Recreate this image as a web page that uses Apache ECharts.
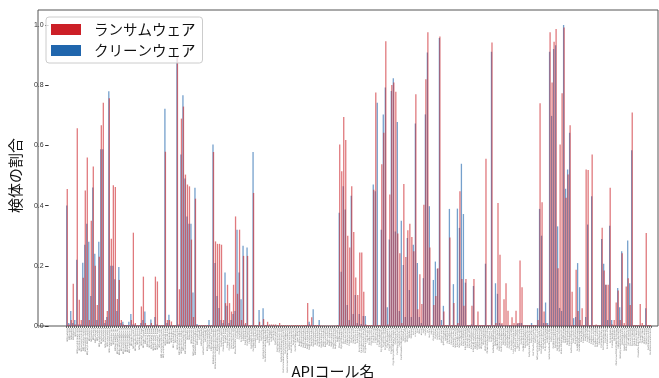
<!DOCTYPE html>
<html>
<head>
<meta charset="utf-8">
<script src="https://cdn.jsdelivr.net/npm/echarts@6/dist/echarts.min.js"></script>
<style>
  html, body { margin: 0; padding: 0; background: #fff; }
  #chart { width: 659px; height: 378px; }
</style>
</head>
<body>
<div id="chart"></div>
<script>
// API call names (x categories)
const apiNames = [
  "NtCreateFile","NtOpenFile","NtReadFile","NtWriteFile","NtClose","NtQueryInformationFile","NtSetInformationFile","NtDeviceIoControlFile","NtQueryDirectoryFile","NtQueryAttributesFile",
  "NtQueryFullAttributesFile","NtDeleteFile","NtCreateKey","NtOpenKey","NtOpenKeyEx","NtQueryKey","NtQueryValueKey","NtSetValueKey","NtDeleteKey","NtDeleteValueKey",
  "NtEnumerateKey","NtEnumerateValueKey","NtCreateSection","NtOpenSection","NtMapViewOfSection","NtUnmapViewOfSection","NtAllocateVirtualMemory","NtFreeVirtualMemory","NtProtectVirtualMemory","NtReadVirtualMemory",
  "NtWriteVirtualMemory","NtQueryVirtualMemory","NtCreateProcess","NtCreateProcessEx","NtCreateUserProcess","NtOpenProcess","NtTerminateProcess","NtCreateThread","NtCreateThreadEx","NtOpenThread",
  "NtResumeThread","NtSuspendThread","NtTerminateThread","NtGetContextThread","NtSetContextThread","NtQueueApcThread","NtDelayExecution","NtQuerySystemInformation","NtQueryInformationProcess","NtCreateMutant",
  "NtOpenMutant","NtCreateEvent","NtOpenEvent","NtDuplicateObject","NtLoadDriver","NtShutdownSystem","NtCreateDirectoryObject","NtOpenDirectoryObject","NtQuerySystemTime","NtCreateNamedPipeFile",
  "NtLoadKey","NtSaveKey","NtRenameKey","NtQueryMultipleValueKey","NtMakeTemporaryObject","NtUnloadDriver","LdrLoadDll","LdrGetDllHandle","LdrGetProcedureAddress","LdrUnloadDll",
  "RtlDecompressBuffer","RtlCompressBuffer","RtlCreateUserThread","RtlAddVectoredExceptionHandler","RtlRemoveVectoredExceptionHandler","RtlDispatchException","CreateProcessInternalW","ShellExecuteExW","CreateRemoteThread","CreateThread",
  "CreateDirectoryW","CreateDirectoryExW","RemoveDirectoryA","RemoveDirectoryW","MoveFileWithProgressW","CopyFileA","CopyFileW","CopyFileExW","DeleteFileW","FindFirstFileExA",
  "FindFirstFileExW","FindNextFileW","GetFileAttributesW","GetFileAttributesExW","SetFileAttributesW","GetFileSize","GetFileSizeEx","GetFileType","GetFileInformationByHandle","GetFileInformationByHandleEx",
  "SetFilePointer","SetFilePointerEx","SetEndOfFile","SetFileTime","GetTempPathW","GetSystemDirectoryA","GetSystemDirectoryW","GetSystemWindowsDirectoryW","GetVolumeNameForVolumeMountPointW","GetVolumePathNameW",
  "GetVolumePathNamesForVolumeNameW","GetDiskFreeSpaceW","GetDiskFreeSpaceExW","DeviceIoControl","GetShortPathNameW","SearchPathW","RegOpenKeyExA","RegOpenKeyExW","RegCreateKeyExA","RegCreateKeyExW",
  "RegQueryValueExA","RegQueryValueExW","RegSetValueExA","RegSetValueExW","RegDeleteKeyA","RegDeleteKeyW","RegDeleteValueA","RegDeleteValueW","RegEnumKeyExA","RegEnumKeyExW",
  "RegEnumKeyW","RegEnumValueA","RegEnumValueW","RegQueryInfoKeyA","RegQueryInfoKeyW","RegCloseKey","OpenSCManagerA","OpenSCManagerW","OpenServiceA","OpenServiceW",
  "CreateServiceA","CreateServiceW","StartServiceA","StartServiceW","ControlService","DeleteService","EnumServicesStatusA","EnumServicesStatusW","CryptAcquireContextA","CryptAcquireContextW",
  "CryptGenKey","CryptExportKey","CryptImportKey","CryptEncrypt","CryptDecrypt","CryptHashData","CryptCreateHash","CryptDecodeObjectEx","CryptProtectData","CryptUnprotectData",
  "CryptGenRandom","CryptProtectMemory","CryptUnprotectMemory","CryptAcquireCertificatePrivateKey","CertOpenStore","CertOpenSystemStoreW","CertControlStore","CertCreateCertificateContext","WSAStartup","WSASocketW",
  "WSAConnect","WSARecv","WSASend","socket","connect","bind","listen","accept","send","sendto",
  "recv","recvfrom","select","closesocket","shutdown","ioctlsocket","setsockopt","getsockname","gethostbyname","getaddrinfo",
  "GetAddrInfoW","InternetOpenA","InternetOpenW","InternetConnectA","InternetConnectW","InternetOpenUrlA","InternetOpenUrlW","InternetReadFile","InternetWriteFile","InternetCloseHandle",
  "InternetCrackUrlA","InternetCrackUrlW","InternetSetOptionA","InternetQueryOptionA","HttpOpenRequestA","HttpOpenRequestW","HttpSendRequestA","HttpSendRequestW","HttpQueryInfoA","URLDownloadToFileW",
  "ObtainUserAgentString","DnsQuery_A","DnsQuery_W","GetAdaptersAddresses","GetAdaptersInfo","GetBestInterfaceEx","GetComputerNameA","GetComputerNameW","GetUserNameA","GetUserNameW",
  "GetUserNameExA","GetUserNameExW","LookupAccountSidW","LookupPrivilegeValueW","AdjustTokenPrivileges","OpenProcessToken","GetTokenInformation","GetSystemInfo","GetNativeSystemInfo","GetSystemMetrics",
  "GetSystemTime","GetSystemTimeAsFileTime","GetLocalTime","GetTimeZoneInformation","GetTickCount","NtQueryPerformanceCounter","GlobalMemoryStatus","GlobalMemoryStatusEx","IsDebuggerPresent","OutputDebugStringA",
  "SetErrorMode","SetUnhandledExceptionFilter","GetKeyState","GetAsyncKeyState","GetKeyboardState","SetWindowsHookExA","SetWindowsHookExW","UnhookWindowsHookEx","FindWindowA","FindWindowW",
  "FindWindowExA","FindWindowExW","GetForegroundWindow","GetCursorPos","EnumWindows","SendNotifyMessageA","SendNotifyMessageW","DrawTextExA","DrawTextExW","LoadStringA",
  "LoadStringW","LoadResource","FindResourceA","FindResourceW","FindResourceExA","FindResourceExW","SizeofResource","CoCreateInstance","CoCreateInstanceEx","CoInitializeEx",
  "CoInitializeSecurity","CoUninitialize","CoGetClassObject","OleInitialize","OleConvertOLESTREAMToIStorage","SHGetFolderPathW","SHGetSpecialFolderLocation","SHGetFileInfoW","ReadProcessMemory","WriteProcessMemory",
  "VirtualProtectEx","Process32FirstW","Process32NextW","Module32FirstW","Module32NextW","CreateToolhelp32Snapshot","Thread32First","Thread32Next","WriteConsoleA","WriteConsoleW",
  "GetFileVersionInfoW","GetFileVersionInfoSizeW","MessageBoxTimeoutA","MessageBoxTimeoutW","ExitWindowsEx","NetShareEnum","NetUserGetInfo","NetGetJoinInformation"
];

// share of ransomware samples calling each API
const ransomware = [
  .455,.005,.02,.14,.005,.657,.087,.02,.16,.45,
  .56,.02,.35,.53,.20,.07,.23,.667,.742,.02,
  .05,.757,.29,.468,.462,.09,.153,.02,.005,.003,
  .003,.003,.02,.31,.01,.003,.003,.065,.164,.01,
  .003,.003,.01,.003,.164,.148,.003,.003,.003,.579,
  .02,.02,.015,.003,.003,.898,.122,.689,.729,.503,
  .47,.464,.287,.03,.423,.003,.003,.003,.003,.003,
  .003,.003,.003,.578,.281,.273,.273,.27,.02,.076,
  .137,.076,.048,.137,.364,.107,.32,.02,.233,.01,
  .233,.003,.003,.442,.003,.003,.014,.003,.023,.003,
  .014,.005,.005,.005,.005,.003,.01,.003,.003,.003,
  .003,.003,.003,.003,.003,.003,.003,.003,.003,.003,
  .076,.005,.029,.003,.003,.003,.003,.002,.002,.002,
  .002,.002,.002,.002,.002,.003,.603,.514,.694,.618,
  .30,.261,.464,.312,.161,.103,.244,.244,.114,.005,
  .003,.003,.003,.453,.776,.003,.003,.537,.642,.946,
  .005,.437,.801,.809,.778,.307,.242,.01,.472,.229,
  .318,.34,.296,.248,.77,.056,.172,.073,.403,.82,
  .976,.261,.003,.07,.10,.192,.962,.003,.048,.003,
  .003,.294,.003,.076,.003,.01,.448,.156,.067,.156,
  .003,.003,.067,.156,.003,.048,.003,.003,.003,.556,
  .003,.003,.942,.003,.01,.409,.237,.01,.089,.142,
  .051,.003,.029,.01,.051,.01,.218,.129,.003,.003,
  .003,.003,.003,.003,.003,.02,.74,.411,.048,.01,
  .003,.976,.809,.944,.987,.192,.603,.773,.992,.426,
  .503,.667,.114,.003,.187,.05,.02,.059,.003,.52,
  .518,.003,.57,.003,.005,.003,.003,.326,.184,.137,
  .137,.459,.005,.02,.078,.118,.02,.242,.01,.131,
  .159,.07,.709,.003,.003,.003,.073,.01,.003,.309,
  .003,.003
];

// share of cleanware samples calling each API
const cleanware = [
  .40,.01,.05,.01,.02,.22,.005,.005,.21,.27,
  .34,.28,.10,.46,.24,.02,.28,.587,.587,.01,
  .03,.78,.20,.20,.155,.05,.196,.01,.014,.003,
  .003,.014,.04,.005,.005,.002,.002,.01,.02,.048,
  .002,.002,.022,.002,.03,.005,.002,.002,.002,.722,
  .01,.037,.003,.002,.002,.89,.005,.57,.767,.49,
  .364,.34,.34,.111,.459,.007,.002,.002,.002,.002,
  .002,.02,.002,.603,.209,.10,.06,.02,.01,.178,
  .067,.01,.02,.04,.05,.32,.178,.089,.267,.005,
  .261,.002,.002,.578,.002,.002,.053,.002,.059,.002,
  .003,.002,.002,.002,.002,.002,.002,.001,.001,.001,
  .001,.001,.001,.001,.001,.001,.001,.001,.001,.001,
  .003,.014,.003,.056,.002,.002,.02,.001,.001,.001,
  .001,.001,.001,.001,.001,.002,.376,.18,.464,.387,
  .07,.02,.433,.04,.103,.01,.04,.007,.033,.033,
  .002,.002,.002,.47,.448,.742,.002,.32,.703,.792,
  .062,.287,.781,.823,.314,.678,.05,.35,.203,.03,
  .292,.12,.03,.27,.673,.209,.03,.01,.159,.703,
  .909,.398,.002,.153,.214,.19,.957,.02,.067,.002,
  .002,.389,.002,.139,.002,.39,.326,.539,.372,.144,
  .002,.002,.005,.133,.002,.002,.002,.002,.002,.207,
  .002,.002,.911,.002,.142,.107,.01,.005,.002,.002,
  .002,.002,.002,.002,.002,.008,.01,.01,.002,.002,
  .002,.002,.01,.002,.002,.059,.389,.30,.01,.078,
  .01,.911,.698,.92,.933,.331,.06,.05,1.0,.456,
  .52,.642,.002,.026,.03,.209,.129,.002,.002,.03,
  .337,.002,.431,.002,.002,.002,.002,.289,.207,.137,
  .02,.333,.02,.002,.002,.126,.062,.248,.002,.002,
  .284,.142,.584,.002,.002,.002,.002,.002,.002,.059,
  .002,.002
];

const yTicks = [0, 0.2, 0.4, 0.6, 0.8, 1.0];

const RED = "#cc1f27";
const BLUE = "#2066ad";
const JP_FONT = '"Noto Sans CJK JP", "Noto Sans", sans-serif';

const chart = echarts.init(document.getElementById("chart"));
const categories = apiNames.slice(0, ransomware.length);

const option = {
  animation: false,
  backgroundColor: "#fff",
  grid: [
    // frame (spines)
    { left: 38, right: 1, top: 10, bottom: 52, show: true, borderColor: "#555", borderWidth: 1, backgroundColor: "transparent" },
    // y ticks
    { left: 38, right: 1, top: 25, bottom: 52 },
    // bars
    { left: 66, right: 8, top: 25, bottom: 52 }
  ],
  xAxis: [
    { gridIndex: 0, type: "value", show: false },
    { gridIndex: 1, type: "value", show: false, min: 0, max: 1 },
    {
      gridIndex: 2,
      type: "category",
      data: categories,
      axisLine: { show: false, onZero: false },
      axisTick: { show: true, interval: 0, length: 2, lineStyle: { color: "#333", width: 0.7 } },
      axisLabel: { interval: 0, rotate: 90, fontSize: 2.2, color: "#777", margin: 2, fontFamily: "DejaVu Sans" }
    }
  ],
  yAxis: [
    { gridIndex: 0, type: "value", show: false, min: 0, max: 1 },
    {
      gridIndex: 1,
      type: "value",
      position: "left",
      min: yTicks[0],
      max: yTicks[yTicks.length - 1],
      interval: yTicks[1] - yTicks[0],
      axisLine: { show: false, onZero: false },
      axisTick: { show: true, inside: false, length: 3.5, lineStyle: { color: "#333" } },
      axisLabel: { inside: false, fontSize: 7, color: "#333", margin: 5, formatter: (v) => v.toFixed(1) },
      splitLine: { show: false },
      name: "検体の割合",
      nameLocation: "middle",
      nameGap: 21,
      nameTextStyle: { fontSize: 15, color: "#111", fontFamily: JP_FONT }
    },
    { gridIndex: 2, type: "value", show: false, min: 0, max: 1 }
  ],
  legend: {
    orient: "vertical",
    left: 46,
    top: 17,
    data: [
      { name: "ランサムウェア", itemStyle: { color: RED, opacity: 1 } },
      { name: "クリーンウェア", itemStyle: { color: BLUE, opacity: 1 } }
    ],
    icon: "rect",
    itemWidth: 30,
    itemHeight: 11,
    itemGap: 6,
    padding: [5, 7, 5, 5],
    borderColor: "#ccc",
    borderWidth: 1,
    borderRadius: 3,
    backgroundColor: "rgba(255,255,255,0.8)",
    textStyle: { fontSize: 14.5, color: "#111", fontFamily: JP_FONT, lineHeight: 15, padding: [0, 0, 0, 8] }
  },
  graphic: [
    {
      type: "text",
      style: { x: 333, y: 371, text: "APIコール名", fill: "#111", fontSize: 15, fontFamily: JP_FONT, align: "center", verticalAlign: "middle" }
    }
  ],
  series: [
    {
      name: "クリーンウェア",
      type: "bar",
      xAxisIndex: 2,
      yAxisIndex: 2,
      data: cleanware,
      barWidth: 1.3,
      barGap: "-60%",
      itemStyle: { color: BLUE, opacity: 0.62 }
    },
    {
      name: "ランサムウェア",
      type: "bar",
      xAxisIndex: 2,
      yAxisIndex: 2,
      data: ransomware,
      barWidth: 1.3,
      itemStyle: { color: RED, opacity: 0.6 }
    }
  ]
};

chart.setOption(option);
</script>
</body>
</html>
